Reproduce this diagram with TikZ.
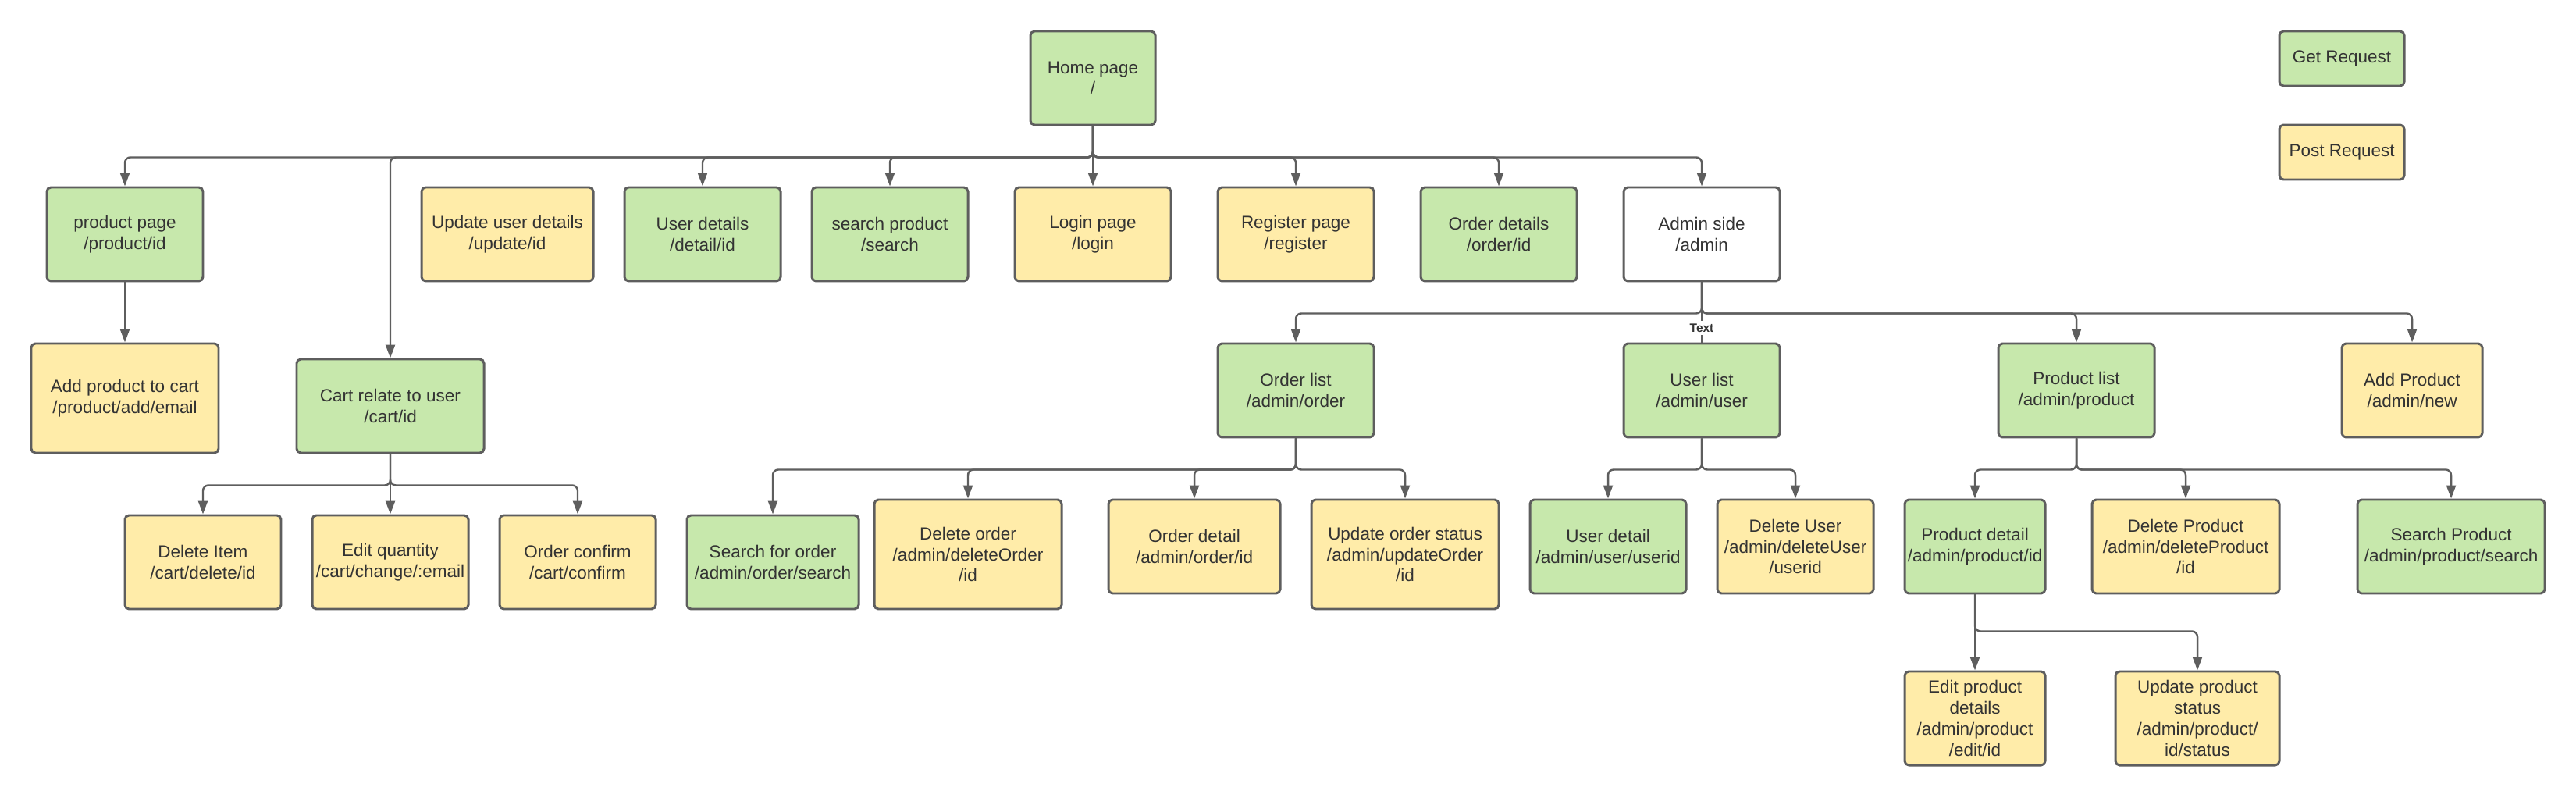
\documentclass[tikz,border=0pt]{standalone}
\usepackage{fontspec}
\setmainfont{Liberation Sans}
\usepackage{xcolor}
\usetikzlibrary{arrows.meta}

\definecolor{getgreen}{HTML}{C7E8AC}
\definecolor{postyellow}{HTML}{FFECA9}
\definecolor{edge}{HTML}{5E5E5E}
\definecolor{ink}{HTML}{333333}

\begin{document}
\begin{tikzpicture}[
    route/.style={rectangle, draw=edge, line width=0.85pt, rounded corners=1.5pt, text=ink, align=center, inner sep=0pt, minimum width=2cm, minimum height=1.2cm, font=\fontsize{6.4pt}{7.6pt}\selectfont},
    getreq/.style={route, fill=getgreen},
    postreq/.style={route, fill=postyellow},
    blank/.style={route, fill=white},
    link/.style={draw=edge, line width=0.7pt, rounded corners=2pt, -{Triangle[length=0.17cm,width=0.12cm]}},
    lbl/.style={fill=white, inner sep=1pt, text=ink, font=\bfseries\fontsize{4.4pt}{5pt}\selectfont}
]
    \useasboundingbox (0,0) rectangle (33,-10.31);

    % Home
    \node[getreq, minimum width=1.6cm] (home) at (14,-1) {Home page\\/};

    % Legend
    \node[getreq, minimum width=1.6cm, minimum height=0.7cm] (get) at (30,-0.75) {Get Request};
    \node[postreq, minimum width=1.6cm, minimum height=0.7cm] (post) at (30,-1.95) {Post Request};

    % First level
    \node[getreq] (prod) at (1.6,-3) {product page\\/product/id};
    \node[postreq, minimum width=2.2cm] (upd) at (6.5,-3) {Update user details\\/update/id};
    \node[getreq] (udet) at (9,-3) {User details\\/detail/id};
    \node[getreq] (srch) at (11.4,-3) {search product\\/search};
    \node[postreq] (login) at (14,-3) {Login page\\/login};
    \node[postreq] (reg) at (16.6,-3) {Register page\\/register};
    \node[getreq] (odet) at (19.2,-3) {Order details\\/order/id};
    \node[blank] (admin) at (21.8,-3) {Admin side\\/admin};

    % Product and cart
    \node[postreq, minimum width=2.4cm, minimum height=1.4cm] (addcart) at (1.6,-5.1) {Add product to cart\\/product/add/email};
    \node[getreq, minimum width=2.4cm] (cart) at (5,-5.2) {Cart relate to user\\/cart/id};
    \node[postreq] (delitem) at (2.6,-7.2) {Delete Item\\/cart/delete/id};
    \node[postreq] (editq) at (5,-7.2) {Edit quantity\\/cart/change/:email};
    \node[postreq] (oconf) at (7.4,-7.2) {Order confirm\\/cart/confirm};

    % Admin lists
    \node[getreq] (olist) at (16.6,-5) {Order list\\/admin/order};
    \node[getreq] (ulist) at (21.8,-5) {User list\\/admin/user};
    \node[getreq] (plist) at (26.6,-5) {Product list\\/admin/product};
    \node[postreq, minimum width=1.8cm] (addp) at (30.9,-5) {Add Product\\/admin/new};

    % Orders
    \node[getreq, minimum width=2.2cm] (osearch) at (9.9,-7.2) {Search for order\\/admin/order/search};
    \node[postreq, minimum width=2.4cm, minimum height=1.4cm] (odel) at (12.4,-7.1) {Delete order\\/admin/deleteOrder\\/id};
    \node[postreq, minimum width=2.2cm] (odetail) at (15.3,-7) {Order detail\\/admin/order/id};
    \node[postreq, minimum width=2.4cm, minimum height=1.4cm] (oupd) at (18,-7.1) {Update order status\\/admin/updateOrder\\/id};

    % Users
    \node[getreq] (udetail) at (20.6,-7) {User detail\\/admin/user/userid};
    \node[postreq] (udel) at (23,-7) {Delete User\\/admin/deleteUser\\/userid};

    % Products
    \node[getreq, minimum width=1.8cm] (pdetail) at (25.3,-7) {Product detail\\/admin/product/id};
    \node[postreq, minimum width=2.4cm] (pdel) at (28,-7) {Delete Product\\/admin/deleteProduct\\/id};
    \node[getreq, minimum width=2.4cm] (psearch) at (31.4,-7) {Search Product\\/admin/product/search};
    \node[postreq, minimum width=1.8cm] (pedit) at (25.3,-9.2) {Edit product\\details\\/admin/product\\/edit/id};
    \node[postreq, minimum width=2.1cm] (pstatus) at (28.15,-9.2) {Update product\\status\\/admin/product/\\id/status};

    % Connections from home
    \draw[link] (home.south) -- ++(0,-0.4) -| (prod.north);
    \draw[link] (home.south) -- ++(0,-0.4) -| (cart.north);
    \draw[link] (home.south) -- ++(0,-0.4) -| (udet.north);
    \draw[link] (home.south) -- ++(0,-0.4) -| (srch.north);
    \draw[link] (home.south) -- (login.north);
    \draw[link] (home.south) -- ++(0,-0.4) -| (reg.north);
    \draw[link] (home.south) -- ++(0,-0.4) -| (odet.north);
    \draw[link] (home.south) -- ++(0,-0.4) -| (admin.north);

    \draw[link] (prod) -- (addcart);

    % Cart
    \draw[link] (cart.south) -- ++(0,-0.4) -| (delitem.north);
    \draw[link] (cart.south) -- (editq.north);
    \draw[link] (cart.south) -- ++(0,-0.4) -| (oconf.north);

    % Admin
    \draw[link] (admin.south) -- ++(0,-0.4) -| (olist.north);
    \draw[link] (admin.south) -- ++(0,-0.4) -| (plist.north);
    \draw[link] (admin.south) -- ++(0,-0.4) -| (addp.north);
    \draw[draw=edge, line width=0.7pt] (admin.south) -- (ulist.north) node[lbl, pos=0.76] {Text};

    \draw[link] (olist.south) -- ++(0,-0.4) -| (osearch.north);
    \draw[link] (olist.south) -- ++(0,-0.4) -| (odel.north);
    \draw[link] (olist.south) -- ++(0,-0.4) -| (odetail.north);
    \draw[link] (olist.south) -- ++(0,-0.4) -| (oupd.north);

    \draw[link] (ulist.south) -- ++(0,-0.4) -| (udetail.north);
    \draw[link] (ulist.south) -- ++(0,-0.4) -| (udel.north);

    \draw[link] (plist.south) -- ++(0,-0.4) -| (pdetail.north);
    \draw[link] (plist.south) -- ++(0,-0.4) -| (pdel.north);
    \draw[link] (plist.south) -- ++(0,-0.4) -| (psearch.north);

    \draw[link] (pdetail) -- (pedit);
    \draw[link] (pdetail.south) -- ++(0,-0.47) -| (pstatus.north);
\end{tikzpicture}
\end{document}
